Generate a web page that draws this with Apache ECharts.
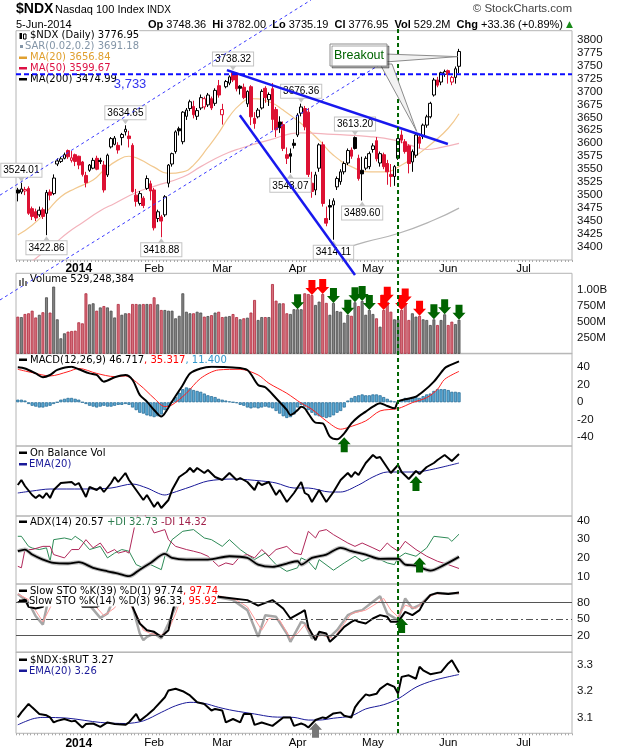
<!DOCTYPE html>
<html>
<head>
<meta charset="utf-8">
<title>$NDX Nasdaq 100 Index</title>
<script src="https://cdn.jsdelivr.net/npm/echarts@6.0.0/dist/echarts.min.js"></script>
<style>
html, body { margin: 0; padding: 0; background: #fff; }
#main_chart { width: 620px; height: 750px; }
</style>
</head>
<body>
<div id="main_chart"></div>
<script>
// trading days shown on the x axis (future days of Jun/Jul stay empty)
var decDays = [6,9,10,11,12,13,16,17,18,19,20,23,24,26,27,30,31];
var janDays = [2,3,6,7,8,9,10,13,14,15,16,17,21,22,23,24,27,28,29,30,31];
var febDays = [3,4,5,6,7,10,11,12,13,14,18,19,20,21,24,25,26,27,28];
var marDays = [3,4,5,6,7,10,11,12,13,14,17,18,19,20,21,24,25,26,27,28,31];
var aprDays = [1,2,3,4,7,8,9,10,11,14,15,16,17,21,22,23,24,25,28,29,30];
var mayDays = [1,2,5,6,7,8,9,12,13,14,15,16,19,20,21,22,23,27,28,29,30];
var junDays = [2,3,4,5,6,9,10,11,12,13,16,17,18,19,20,23,24,25,26,27,30];
var julDays = [1,2,3,7,8,9,10,11,14,15,16,17,18,21];
var monthNames = ['Jan','Feb','Mar','Apr','May','Jun','Jul','Aug','Sep','Oct','Nov','Dec'];

// $NDX daily candles, 6-Dec-2013 .. 5-Jun-2014
var opens = [3510,3506,3508,3513,3474,3468,3462,3472,3465,3506,
  3503,3560,3565,3571,3586,3567,3578,3575,3564,3538,
  3548,3552,3571,3567,3558,3539,3593,3598,3596,3611,
  3622,3614,3596,3500,3484,3494,3513,3522,3510,3455,
  3458,3462,3523,3560,3584,3628,3603,3652,3667,3671,
  3652,3668,3670,3674,3686,3677,3711,3655,3709,3716,
  3736,3735,3710,3708,3676,3709,3648,3651,3668,3706,
  3684,3705,3665,3641,3636,3578,3580,3600,3616,3658,
  3667,3660,3523,3510,3552,3597,3455,3480,3481,3516,
  3526,3545,3562,3587,3611,3571,3548,3552,3555,3588,
  3605,3562,3578,3561,3540,3536,3571,3616,3603,3595,
  3564,3577,3612,3613,3635,3651,3693,3722,3718,3733,
  3740,3718,3727,3748.36];
var closes = [3504,3512,3511,3465,3459,3456,3471,3459,3505,3500,
  3533,3566,3570,3578,3574,3572,3565,3558,3540,3524,
  3558,3567,3550,3565,3510,3577,3609,3610,3587,3617,
  3627,3609,3507,3488,3503,3480,3532,3508,3437,3468,
  3450,3497,3558,3580,3622,3624,3660,3664,3680,3655,
  3663,3688,3686,3693,3668,3702,3693,3665,3719,3728,
  3722,3705,3706,3688,3700,3651,3638,3664,3700,3688,
  3694,3646,3626,3630,3590,3571,3575,3596,3654,3670,
  3632,3540,3507,3539,3597,3484,3446,3477,3489,3532,
  3545,3561,3586,3575,3590,3532,3541,3571,3580,3595,
  3570,3580,3555,3545,3536,3555,3609,3606,3584,3561,
  3584,3616,3600,3635,3651,3677,3722,3712,3736,3738,
  3733,3727,3743.59,3776.95];
var highs = [3514,3524.01,3516,3517,3478,3474,3478,3476,3510,3511,
  3540,3571,3574,3582,3588,3585,3580,3576,3566,3545,
  3560,3572,3576,3572,3566,3580,3612,3614,3602,3620,
  3634.65,3624,3600,3512,3508,3498,3538,3528,3514,3472,
  3462,3500,3560,3582,3625,3632,3662,3668,3684,3682,
  3668,3694,3690,3697,3690,3706,3722,3676,3722,3731,
  3738.32,3737,3712,3715,3702,3712,3660,3668,3704,3710,
  3698,3716,3670,3652,3642,3592,3590,3608,3658,3676.36,
  3672,3668,3545,3545,3600,3603,3478,3492,3494,3536,
  3550,3565,3590,3592,3613.20,3578,3574,3575,3584,3600,
  3612,3584,3582,3568,3560,3558,3612,3625,3608,3598,
  3588,3620,3618,3638,3655,3680,3726,3728,3738,3742,
  3742,3730,3748,3782];
var lows = [3488,3502,3500,3462,3452,3450,3458,3454,3422.86,3490,
  3500,3556,3562,3569,3570,3563,3556,3550,3536,3515,
  3545,3550,3548,3560,3505,3535,3590,3596,3580,3596,
  3615,3592,3505,3478,3480,3475,3510,3490,3432,3448,
  3418.88,3458,3515,3555,3580,3615,3598,3645,3662,3648,
  3645,3664,3665,3670,3664,3672,3688,3636,3706,3712,
  3718,3700,3694,3685,3670,3635,3628,3648,3665,3678,
  3672,3625,3612,3620,3585,3560,3543.07,3590,3612,3652,
  3625,3535,3495,3500,3545,3478,3440,3452,3414.11,3510,
  3520,3540,3558,3570,3588,3528,3489.60,3548,3550,3582,
  3565,3555,3550,3520,3516,3518,3568,3600,3580,3542,
  3545,3572,3590,3608,3630,3648,3690,3708,3712,3728,
  3715,3712,3715,3735.19];
// volume in millions of shares
var volumes = [576,570,618,629,669,564,606,645,877,640,
  1043,535,240,318,344,354,359,489,473,939,
  768,784,669,720,741,720,669,564,773,606,
  629,629,773,773,768,773,773,773,877,768,
  680,680,669,669,551,590,939,653,629,629,
  653,640,577,586,600,640,653,570,577,586,
  617,570,536,551,561,640,836,525,570,570,
  570,1083,825,784,784,629,618,692,692,692,
  939,928,912,758,810,928,790,606,789,664,
  654,483,606,590,800,741,820,606,680,618,
  551,421,680,810,654,535,535,680,780,525,
  629,577,590,535,525,447,535,447,525,613,
  447,499,462,529.2];
var macdHist = [3,3,2,-2,-4,-5,-6,-6,-5,-4,
  -2,0,3,4,5,5,4,3,0,-2,
  -4,-5,-6,-5,-4,-5,-5,-4,-3,-3,
  -2,-3,-6,-9,-12,-13,-15,-16,-17,-16,
  -14,-9,-5,0,6,11,15,17,16,14,
  13,12,10,8,7,6,4,3,2,1,
  0,-1,-3,-4,-6,-7,-6,-7,-6,-5,
  -6,-7,-10,-13,-16,-18,-17,-14,-6,-3,
  -5,-9,-12,-15,-16,-17,-18,-17,-15,-12,
  -10,-6,2,5,7,8,9,8,8,9,
  9,8,6,4,2,1,1,3,5,4,
  5,6,5,7,9,10,13,15,15,15,
  14,12,12,11.4];

// overlay and indicator lines as [bar index, value]
var ma20Pts = [[0,3423],[4,3442],[8,3468],[12,3497],[16,3513],[21,3529],[24,3548],[28,3568],[31,3575],[34,3569],[38,3554],[42,3542],[46,3545],[49,3558],[53,3592],[56,3620],[59,3652],[62,3675],[65,3686],[70,3680],[74,3664],[79,3638],[84,3606],[88,3577],[93,3555],[98,3545],[102,3545],[107,3558],[112,3581],[116,3603],[120,3629],[123,3656.84]];
var ma50Pts = [[0,3350],[5,3378],[10,3405],[14,3428],[18,3447],[23,3470],[27,3484],[33,3505],[38,3517],[46,3535],[51,3555],[57,3577],[62,3590],[70,3606],[79,3620],[88,3617],[98,3613],[105,3606],[110,3595],[114,3588],[118,3592],[123,3599.67]];
var ma200Pts = [[86,3385],[91,3397],[97,3410],[106,3426],[116,3452],[123,3474.99]];
var macdPts = [[0,40],[2,38.7],[5,33],[7,28.6],[9,31.2],[11,37],[15,40.7],[17,37.7],[20,33],[22,31.2],[24,23.6],[27,28.6],[30,31.2],[32,25.5],[34,8.4],[36,0.8],[38,-8.8],[40,-16.4],[41,-12.6],[43,0.8],[46,19.8],[48,33],[51,38.7],[54,40.6],[60,39.8],[64,36.9],[67,19.8],[69,17.1],[72,4.6],[75,-8.8],[76,-14.5],[78,-9],[79,-5],[80,-7],[81,-13],[83,-23.3],[85,-24.1],[87,-39.3],[89,-42.3],[91,-35.5],[93,-24.1],[95,-16.4],[97,-10.7],[99,-5],[101,-1.1],[103,-4.2],[105,-6.9],[106,0.8],[108,3.4],[111,6.5],[113,12.2],[116,23.6],[119,38.9],[120,41.5],[123,46.717]];
var signalPts = [[0,37.7],[4,33.9],[9,30.1],[14,35],[17,38.7],[22,33],[27,29.3],[30,30.1],[34,19.8],[38,4.6],[41,-4.9],[43,-3],[47,10.3],[51,27.5],[56,37],[62,37.7],[67,31.2],[70,21.7],[75,10.3],[79,-1],[82,-8],[86,-21.3],[90,-30.8],[92,-28.9],[97,-21.3],[101,-9.9],[106,-7.2],[110,-0.4],[114,5.3],[117,14.8],[119,26.3],[123,35.317]];
// On Balance Volume, relative units (panel has no scale)
var obvPts = [[0,31],[1,36],[2,30],[4,21],[5,18],[6,21],[7,18],[8,23],[9,18],[10,26],[12,33],[15,34],[16,31],[17,33],[19,19],[20,29],[22,26],[23,29],[24,24],[26,33],[27,39],[28,34],[30,43],[31,36],[33,26],[35,16],[36,21],[38,9],[39,14],[40,8],[42,16],[43,26],[45,39],[47,44],[48,48],[49,44],[50,48],[52,43],[53,46],[55,39],[57,36],[59,43],[61,36],[62,38],[64,34],[66,26],[67,34],[68,31],[70,34],[72,21],[73,26],[75,14],[77,23],[79,34],[80,23],[81,21],[82,14],[84,26],[86,14],[88,24],[90,36],[92,43],[93,39],[94,44],[95,41],[97,53],[99,61],[100,58],[101,59],[104,43],[106,51],[107,44],[109,37],[111,45],[112,42],[114,49],[116,53],[117,56],[119,61],[121,55],[123,62]];
var obvEmaPts = [[0,23],[4,25],[9,27],[18,27],[26,28],[32,32],[36,28],[41,21],[43,23],[48,29],[53,35],[60,37],[68,35],[72,33],[77,28],[81,28],[87,24],[90,24],[95,31],[99,39],[103,44],[106,44],[111,44],[116,47],[123,53]];
var adxPts = [[0,23.6],[2,24.5],[4,21.8],[7,19.1],[10,17.3],[14,17],[17,17.7],[21,14.7],[25,12.8],[28,11.6],[31,10.2],[34,13.7],[37,17.3],[41,22.2],[43,20],[47,19.1],[53,19.1],[59,20.9],[64,20],[67,16.4],[71,15.2],[75,17],[78,18.2],[79,16.4],[82,20],[86,21.8],[90,25.4],[93,23.6],[97,21.8],[101,19.5],[106,19.6],[108,16.4],[111,15.9],[115,13.2],[119,16.4],[123,20.57]];
var plusDiPts = [[0,31.6],[1,31.6],[3,26.2],[4,25.3],[6,24.5],[8,25.4],[9,18.2],[10,29.8],[13,30.7],[15,29.8],[16,31.6],[18,28.9],[20,24.5],[23,26.2],[25,20],[27,22.6],[29,24.5],[31,23.6],[33,16.4],[35,14.7],[37,16.4],[40,13.7],[41,20.9],[43,29.8],[46,34.3],[49,35.2],[52,30.7],[54,29.8],[57,26.2],[59,29.8],[62,24.5],[66,19.1],[69,22.6],[72,16.4],[75,12.8],[78,14.7],[79,20],[81,18.2],[83,13.7],[84,19.1],[88,13.4],[91,17.3],[94,20.9],[96,18.2],[99,20.9],[103,17.3],[105,16.4],[106,20],[108,22.6],[111,20.9],[114,25.4],[116,31.6],[120,30.7],[121,28.9],[123,32.73]];
var minusDiPts = [[0,15.5],[1,14.7],[2,24.5],[4,24.5],[7,26.2],[9,26.2],[10,21.8],[13,20],[15,24.5],[17,24.5],[19,29.8],[21,25.4],[23,28],[25,22.6],[27,24.5],[28,22.6],[30,23.6],[31,22.6],[33,41],[34,45],[35,45],[36,41],[38,33.4],[41,35.2],[42,29.8],[44,26.2],[47,24.5],[49,23.6],[51,22.6],[53,20.9],[55,17.3],[56,15.5],[58,17.3],[60,16.4],[62,20.9],[64,21.8],[66,20],[68,24.5],[70,20.9],[72,24.5],[75,26.2],[77,22.6],[79,21.8],[80,28],[81,34.3],[83,30.7],[84,34.3],[86,35.2],[88,32.5],[92,28],[94,26.2],[96,28],[99,25.4],[101,23.6],[103,28],[104,26.2],[106,23.6],[108,28.9],[111,24.5],[114,20.9],[117,18.2],[120,16.4],[123,14.32]];
var stoK39Pts = [[0,80],[2,85],[3,72],[5,69],[7,72],[8,90],[10,100],[14,98],[17,95],[18,72],[22,72],[24,80],[26,95],[30,98],[32,72],[34,42],[36,30],[38,27],[40,18],[42,30],[43,60],[44,84],[46,95],[50,97],[55,95],[56,90],[60,87],[64,84],[67,74],[69,79],[71,84],[74,69],[76,51],[79,62],[80,66],[81,35],[83,12],[84,27],[86,24],[87,9],[89,21],[91,36],[93,45],[94,48],[95,45],[97,42],[99,51],[101,57],[103,54],[104,45],[106,45],[107,54],[108,63],[110,57],[112,66],[113,78],[115,93],[117,97],[120,95],[123,97.74]];
var stoK14Pts = [[0,95],[3,80],[5,55],[7,40],[8,70],[9,95],[12,100],[17,98],[20,75],[23,52],[25,60],[27,90],[30,100],[32,72],[34,24],[35,12],[36,18],[38,24],[40,15],[42,42],[44,72],[45,90],[47,100],[53,98],[55,90],[60,84],[64,66],[67,18],[69,57],[72,54],[75,24],[76,9],[79,45],[80,42],[82,15],[84,24],[87,18],[89,30],[92,57],[94,63],[96,66],[99,81],[101,91],[103,60],[106,48],[108,87],[110,69],[112,75],[115,93],[117,97],[120,96],[123,96.33]];
var stoD3Pts = [[0,95],[3,85],[5,65],[7,45],[9,70],[11,95],[14,100],[18,95],[21,78],[24,56],[27,70],[29,95],[33,60],[35,30],[37,24],[40,21],[42,30],[44,60],[45,78],[47,95],[52,99],[56,92],[61,84],[64,72],[68,30],[70,51],[73,48],[76,15],[78,24],[80,40],[81,30],[83,18],[85,21],[88,15],[91,42],[93,60],[97,66],[100,78],[102,87],[104,66],[106,54],[108,75],[111,69],[113,81],[116,95],[120,96],[123,95.92]];
var ratioPts = [[0,3.100],[1,3.119],[3,3.151],[4,3.138],[6,3.113],[8,3.108],[9,3.100],[10,3.081],[11,3.087],[13,3.094],[15,3.085],[16,3.087],[18,3.062],[19,3.075],[21,3.077],[23,3.064],[25,3.081],[27,3.075],[30,3.072],[31,3.081],[33,3.113],[34,3.087],[36,3.108],[38,3.132],[41,3.176],[42,3.202],[44,3.208],[46,3.199],[48,3.183],[50,3.157],[52,3.151],[54,3.126],[55,3.132],[57,3.126],[58,3.081],[60,3.094],[62,3.081],[63,3.113],[65,3.113],[66,3.072],[68,3.081],[71,3.068],[74,3.100],[76,3.100],[77,3.068],[79,3.077],[80,3.072],[81,3.062],[83,3.090],[85,3.100],[86,3.097],[88,3.115],[90,3.119],[91,3.106],[93,3.100],[94,3.138],[95,3.157],[97,3.187],[98,3.183],[100,3.189],[101,3.208],[103,3.227],[105,3.215],[106,3.190],[107,3.253],[109,3.259],[111,3.246],[112,3.291],[113,3.278],[115,3.263],[118,3.271],[120,3.304],[121,3.316],[123,3.270]];
var ratioEmaPts = [[0,3.072],[4,3.094],[7,3.100],[14,3.097],[23,3.081],[30,3.077],[35,3.087],[40,3.119],[44,3.144],[48,3.157],[52,3.153],[56,3.138],[60,3.126],[66,3.113],[71,3.102],[77,3.100],[81,3.090],[84,3.090],[88,3.097],[93,3.106],[97,3.132],[102,3.148],[106,3.170],[111,3.214],[116,3.240],[123,3.262]];

// annotations: [bar index, value]
var priceNotes = [[1,3524.01,1],[8,3422.86,-1],[30,3634.65,1],[40,3418.88,-1],[60,3738.32,1],[76,3543.07,-1],[79,3676.36,1],[88,3414.11,-1],[94,3613.20,1],[96,3489.60,-1]];
var volArrows = [[78,'g'],[82,'r'],[85,'r'],[88,'g'],[92,'g'],[94,'g'],[96,'g'],[98,'g'],[102,'r'],[103,'r'],[107,'r'],[108,'r'],[112,'r'],[116,'g'],[119,'g'],[123,'g']];
var resistLevel = 3733;
var channelUpper = [[-4.96,3500],[81.7,3876]];
var channelLower = [[-4.96,3298],[103.8,3764]];
var trendTop = [[58.3,3741],[119.9,3598.5]];
var trendLow = [[61.9,3654],[94,3346]];
var markDay = 106;

var RED = '#dd1133';
var GREEN = '#006400';
var ARROW_UP = 'path://M3,15L3,7L0,7L6.5,0L13,7L10,7L10,15Z';
var ARROW_DOWN = 'path://M3,0L10,0L10,8L13,8L6.5,15L0,8L3,8Z';

function monthDates(y, m, days) {
    return days.map(function (d) {
        return y + '-' + (m < 10 ? '0' : '') + m + '-' + (d < 10 ? '0' : '') + d;
    });
}
var dates = [].concat(monthDates(2013, 12, decDays), monthDates(2014, 1, janDays),
    monthDates(2014, 2, febDays), monthDates(2014, 3, marDays), monthDates(2014, 4, aprDays),
    monthDates(2014, 5, mayDays), monthDates(2014, 6, junDays), monthDates(2014, 7, julDays));

var monthStart = {};
dates.forEach(function (d, i) {
    if (i > 0 && d.slice(5, 7) !== dates[i - 1].slice(5, 7)) monthStart[i] = true;
});

// panels, top to bottom
var panels = [
    {top: 30.7, height: 229.3},
    {top: 273.3, height: 80.5},
    {top: 353.3, height: 92.7},
    {top: 446, height: 70},
    {top: 516, height: 68},
    {top: 584, height: 68.4},
    {top: 652, height: 81.3}
];

var candleItems = opens.map(function (o, i) {
    var c = closes[i];
    var down = i > 0 ? c < closes[i - 1] : false;
    var stroke = down ? RED : '#000';
    var fill = c >= o ? '#fff' : stroke;
    return {value: [o, c, lows[i], highs[i]],
        itemStyle: {color: fill, color0: fill, borderColor: stroke, borderColor0: stroke, borderWidth: 1}};
});

var volItems = volumes.map(function (v, i) {
    var down = i > 0 ? closes[i] < closes[i - 1] : closes[i] < opens[i];
    return {value: v, itemStyle: down ? {color: '#d6707c', borderColor: '#b0283c'} : {color: '#858585', borderColor: '#4a4a4a'}};
});

function pts(list) {
    return list.map(function (p) { return [dates[p[0]], p[1]]; });
}

function lineS(k, list, color, width, smooth, z) {
    return {type: 'line', xAxisIndex: k, yAxisIndex: k, data: pts(list), symbol: 'none',
        smooth: smooth || false, clip: true, silent: true, z: z || 2,
        lineStyle: {color: color, width: width}};
}

function yAx(k, min, max, interval, fmt) {
    return {type: 'value', gridIndex: k, position: 'right', min: min, max: max, interval: interval,
        axisLine: {show: false}, axisTick: {show: false}, splitLine: {show: false},
        axisLabel: {show: !!fmt, formatter: fmt, margin: 5, color: '#111',
            fontFamily: 'Liberation Sans', fontSize: 11.5}};
}

function inList(list) {
    return function (v) {
        for (var j = 0; j < list.length; j++) if (Math.abs(v - list[j]) < 1e-6) return String(list[j]);
        return '';
    };
}

var legendFont = 'DejaVu Sans';
function legend(text, left, top, color, rich) {
    return {text: text, left: left, top: top, padding: 0, backgroundColor: '#fff', z: 10,
        textStyle: {fontFamily: legendFont, fontSize: 10, fontWeight: 'normal', color: color || '#000',
            lineHeight: 11, rich: rich}};
}

var titles = [
    {text: '$NDX', left: 16, top: 2, padding: 0,
        textStyle: {fontFamily: 'Liberation Sans', fontSize: 14, fontWeight: 'bold', color: '#000'}},
    {text: 'Nasdaq 100 Index', left: 55, top: 4, padding: 0,
        textStyle: {fontFamily: 'Liberation Sans', fontSize: 11, fontWeight: 'normal', color: '#000'}},
    {text: 'INDX', left: 147, top: 5, padding: 0,
        textStyle: {fontFamily: 'Liberation Sans', fontSize: 10, fontWeight: 'normal', color: '#000'}},
    {text: '5-Jun-2014', left: 16, top: 19, padding: 0,
        textStyle: {fontFamily: 'Liberation Sans', fontSize: 11, fontWeight: 'normal', color: '#000'}},
    {text: '{b|Op} 3748.36  {b|Hi} 3782.00  {b|Lo} 3735.19  {b|Cl} 3776.95  {b|Vol} 529.2M  {b|Chg} +33.36 (+0.89%)',
        right: 57, top: 19, padding: 0,
        textStyle: {fontFamily: 'Liberation Sans', fontSize: 11, fontWeight: 'normal', color: '#000',
            rich: {b: {fontFamily: 'Liberation Sans', fontSize: 11, fontWeight: 'bold', color: '#000'}}}},
    {text: '\u25B2', right: 47, top: 20, padding: 0,
        textStyle: {fontFamily: 'DejaVu Sans', fontSize: 9, fontWeight: 'normal', color: '#1a8a1a'}},
    {text: '\u00A9 StockCharts.com', right: 48, top: 3, padding: 0,
        textStyle: {fontFamily: 'Liberation Sans', fontSize: 11.5, fontWeight: 'normal', color: '#444'}},
    legend('$NDX (Daily) 3776.95', 30, 29.5),
    legend('SAR(0.02,0.2) 3691.18', 25, 40.5, '#8395a7'),
    legend('MA(20) 3656.84', 30, 52, '#e0a030'),
    legend('MA(50) 3599.67', 30, 62.5, '#dd1144'),
    legend('MA(200) 3474.99', 30, 73.5),
    legend('Volume 529,248,384', 30, 274),
    legend('{k|MACD(12,26,9) 46.717}{r|, 35.317}{b|, 11.400}', 30, 354.5, '#000',
        {k: {color: '#000', fontFamily: legendFont, fontSize: 10}, r: {color: '#ff0000', fontFamily: legendFont, fontSize: 10},
         b: {color: '#3399cc', fontFamily: legendFont, fontSize: 10}}),
    legend('On Balance Vol', 30, 447.5),
    legend('EMA(20)', 29, 459, '#1a1a99'),
    legend('{k|ADX(14) 20.57 }{g|+DI 32.73 }{r|-DI 14.32}', 30, 516.5, '#000',
        {k: {color: '#000', fontFamily: legendFont, fontSize: 10}, g: {color: '#2e7d4f', fontFamily: legendFont, fontSize: 10},
         r: {color: '#a0204a', fontFamily: legendFont, fontSize: 10}}),
    legend('{k|Slow STO %K(39) %D(1) 97.74}{r|, 97.74}', 30, 585.5, '#000',
        {k: {color: '#000', fontFamily: legendFont, fontSize: 10}, r: {color: '#ff0000', fontFamily: legendFont, fontSize: 10}}),
    legend('{k|Slow STO %K(14) %D(3) 96.33}{r|, 95.92}', 29, 595.5, '#000',
        {k: {color: '#000', fontFamily: legendFont, fontSize: 10}, r: {color: '#ff0000', fontFamily: legendFont, fontSize: 10}}),
    legend('$NDX:$RUT 3.27', 30, 654.5),
    legend('EMA(20) 3.26', 29, 665.5, '#1a1a99')
];

var xAxes = panels.map(function (p, k) {
    var labelled = (k === 0 || k === 6);
    return {type: 'category', gridIndex: k, data: dates, boundaryGap: true,
        axisLine: {show: false},
        axisTick: {show: labelled, interval: 0, length: 2, lineStyle: {color: '#aaa'}},
        axisLabel: {show: labelled, margin: k === 0 ? 3 : 4,
            interval: function (i) { return !!monthStart[i]; },
            formatter: function (v) {
                var m = +v.slice(5, 7);
                return m === 1 ? '{y|' + v.slice(0, 4) + '}' : monthNames[m - 1];
            },
            color: '#000', fontFamily: 'Liberation Sans', fontSize: 11.5,
            rich: {y: {fontFamily: 'Liberation Sans', fontSize: 12, fontWeight: 'bold', color: '#000'}}},
        splitLine: {show: false}};
});

var yAxes = [
    yAx(0, 3375, 3817, 25, function (v) { return (v >= 3400 && v <= 3800) ? String(v) : ''; }),
    yAx(1, 0, 1250, 250, function (v) { return v === 1000 ? '1.00B' : (v > 0 && v < 1000 ? v + 'M' : ''); }),
    yAx(2, -50, 56, 10, inList([-40, -20, 0, 20, 40])),
    yAx(3, 0, 70, 10, null),
    yAx(4, 6, 42.5, 2, inList([10, 20, 30, 40])),
    yAx(5, -10, 113, 10, inList([20, 50, 80])),
    yAx(6, 3.04, 3.347, 0.01, function (v) {
        var r = Math.round(v * 10);
        return (Math.abs(v * 10 - r) < 1e-6 && r >= 31 && r <= 33) ? (r / 10).toFixed(1) : '';
    })
];

var series = [
    {type: 'candlestick', xAxisIndex: 0, yAxisIndex: 0, data: candleItems, barWidth: 3.2, z: 3, silent: true,
        markPoint: {silent: true, data: priceNotes.map(function (n) {
            var up = n[2] > 0;
            return {coord: [dates[n[0]], n[1]], name: n[1].toFixed(2), symbol: 'triangle', symbolSize: [7, 5],
                symbolRotate: up ? 180 : 0, symbolOffset: [0, up ? -3.5 : 3.5],
                itemStyle: {color: '#c4c4c4'},
                label: {show: true, position: up ? 'top' : 'bottom', distance: 0, formatter: '{b}',
                    color: '#000', fontFamily: 'Liberation Sans', fontSize: 10, backgroundColor: '#fff',
                    borderColor: '#c4c4c4', borderWidth: 1, padding: [2, 2, 1, 2]}};
        })}},
    lineS(0, ma20Pts, '#f2c88e', 1.2, true),
    lineS(0, ma50Pts, '#f3b3bc', 1.2, true),
    lineS(0, ma200Pts, '#b4b4b4', 1.2, true),
    {type: 'bar', xAxisIndex: 1, yAxisIndex: 1, data: volItems, barWidth: 2.9, silent: true,
        itemStyle: {borderWidth: 0.8},
        markPoint: {silent: true, data: volArrows.map(function (a) {
            return {coord: [dates[a[0]], volumes[a[0]]], symbol: ARROW_DOWN, symbolSize: [13, 15],
                symbolOffset: [0, '-50%'], itemStyle: {color: a[1] === 'g' ? GREEN : '#ff0000'}, label: {show: false}};
        })}},
    {type: 'bar', xAxisIndex: 2, yAxisIndex: 2, data: macdHist, barWidth: 3.2, silent: true,
        itemStyle: {color: '#5aaad6', borderColor: '#2b6e98', borderWidth: 0.8},
        markPoint: {silent: true, data: [{coord: [dates[91], -40], symbol: ARROW_UP, symbolSize: [13, 15],
            symbolOffset: [0, '50%'], itemStyle: {color: GREEN}, label: {show: false}}]}},
    lineS(2, signalPts, '#ff2020', 1, 0.3, 3),
    lineS(2, macdPts, '#000', 2, 0.3, 4),
    lineS(3, obvEmaPts, '#1a1a99', 1, 0.3, 2),
    (function () {
        var s = lineS(3, obvPts, '#000', 2, false, 3);
        s.markPoint = {silent: true, data: [{coord: [dates[111], 40], symbol: ARROW_UP, symbolSize: [13, 15],
            symbolOffset: [0, '50%'], itemStyle: {color: GREEN}, label: {show: false}}]};
        return s;
    })(),
    lineS(4, plusDiPts, '#2e8b57', 1, false, 2),
    lineS(4, minusDiPts, '#b0285a', 1, false, 2),
    lineS(4, adxPts, '#bdbdbd', 4, 0.3, 3),
    (function () {
        var s = lineS(4, adxPts, '#000', 1.8, 0.3, 4);
        s.markPoint = {silent: true, data: [{coord: [dates[112], 20.2], symbol: ARROW_UP, symbolSize: [13, 15],
            symbolOffset: [0, '50%'], itemStyle: {color: GREEN}, label: {show: false}}]};
        return s;
    })(),
    (function () {
        var s = lineS(5, stoK14Pts, '#a6a6a6', 2.5, false, 2);
        s.markLine = {silent: true, symbol: ['none', 'none'], label: {show: false},
            lineStyle: {color: '#555', width: 1, type: 'solid'},
            data: [{yAxis: 80}, {yAxis: 50, lineStyle: {type: [7, 3, 2, 3]}}, {yAxis: 20}]};
        return s;
    })(),
    lineS(5, stoD3Pts, '#ff9a9a', 1, false, 3),
    (function () {
        var s = lineS(5, stoK39Pts, '#000', 2, false, 4);
        s.markPoint = {silent: true, data: [{coord: [dates[107], 51.8], symbol: ARROW_UP, symbolSize: [13, 15],
            symbolOffset: [0, '50%'], itemStyle: {color: GREEN}, label: {show: false}}]};
        return s;
    })(),
    lineS(6, ratioEmaPts, '#1a1a99', 1, 0.3, 2),
    (function () {
        var s = lineS(6, ratioPts, '#000', 2, false, 3);
        s.markPoint = {silent: true, data: [{coord: [dates[83], 3.08], symbol: ARROW_UP, symbolSize: [13, 15],
            symbolOffset: [0, '50%'], itemStyle: {color: '#777'}, label: {show: false}}]};
        return s;
    })()
];

var option = {
    animation: false,
    backgroundColor: '#fff',
    title: titles,
    grid: panels.map(function (p) {
        return {left: 16, width: 556, top: p.top, height: p.height, show: true,
            borderColor: '#b4b4b4', borderWidth: 1, backgroundColor: 'transparent'};
    }),
    xAxis: xAxes,
    yAxis: yAxes,
    series: series
};

var myChart = echarts.init(document.getElementById('main_chart'));
myChart.setOption(option);

// drawn annotations, placed through the axes
var x0 = myChart.convertToPixel({xAxisIndex: 0}, dates[0]);
var x1 = myChart.convertToPixel({xAxisIndex: 0}, dates[1]);
function X(i) { return x0 + (x1 - x0) * i; }
function Y(k, v) { return myChart.convertToPixel({yAxisIndex: k}, v); }
function P(pt) { return [X(pt[0]), Y(0, pt[1])]; }

var gr = [];
function seg(a, b, color, w, dash, z) {
    gr.push({type: 'line', z: z || 50, silent: true, shape: {x1: a[0], y1: a[1], x2: b[0], y2: b[1]},
        style: {stroke: color, lineWidth: w, lineDash: dash || null}});
}
function box(x, y, w, h, fill, stroke) {
    gr.push({type: 'rect', z: 60, silent: true, shape: {x: x, y: y, width: w, height: h},
        style: {fill: fill, stroke: stroke || null, lineWidth: 1}});
}

seg(P(channelUpper[0]), P(channelUpper[1]), '#3a3aff', 1, [3, 3]);
seg(P(channelLower[0]), P(channelLower[1]), '#3a3aff', 1, [3, 3]);
seg(P(trendTop[0]), P(trendTop[1]), '#1818ee', 2.5);
seg(P(trendLow[0]), P(trendLow[1]), '#1818ee', 2.5);
var yr = Y(0, resistLevel);
seg([16, yr], [572, yr], '#0c0cff', 2, [5, 3]);
gr.push({type: 'text', z: 50, silent: true, x: X(31.3), y: yr + 10,
    style: {text: '3,733', fill: '#3333ee', font: '13px "Liberation Sans"', align: 'center', verticalAlign: 'middle'}});
var xm = X(markDay);
seg([xm, 29], [xm, 733], GREEN, 2, [4, 3]);

// Breakout callout
var tip1 = P([122.6, 3767]);
var tip2 = P([111.2, 3623]);
gr.push({type: 'polygon', z: 55, silent: true, shape: {points: [[385, 54], [385, 62], tip1]},
    style: {fill: '#f2f2f2', stroke: '#8c8c8c', lineWidth: 1}});
gr.push({type: 'polygon', z: 55, silent: true, shape: {points: [[380, 64], [392, 64], tip2]},
    style: {fill: '#f2f2f2', stroke: '#8c8c8c', lineWidth: 1}});
gr.push({type: 'rect', z: 56, silent: true, shape: {x: 330, y: 44, width: 57, height: 22},
    style: {fill: '#fff', stroke: '#8c8c8c', lineWidth: 1, shadowColor: 'rgba(0,0,0,0.35)',
        shadowOffsetX: 2, shadowOffsetY: 2, shadowBlur: 0}});
gr.push({type: 'text', z: 57, silent: true, x: 334, y: 55.5,
    style: {text: 'Breakout', fill: GREEN, font: '12.5px "Liberation Sans"', verticalAlign: 'middle'}});

// legend keys
box(19.5, 33, 2.5, 6, '#000');
box(23.5, 34, 2.5, 5, '#fff', '#000');
box(20, 45, 3, 3, '#8395a7');
box(19, 56.5, 8, 2.5, '#e0a030');
box(19, 67, 8, 2.5, '#dd1144');
box(19, 78, 8, 2.5, '#000');
box(19, 280, 2, 6, '#777');
box(22, 278, 2, 8, '#777');
box(25, 281, 2, 5, '#777');
box(19, 358.5, 8, 2.5, '#000');
box(19, 451.5, 8, 2.5, '#000');
box(19, 463, 8, 2.5, '#1a1a99');
box(19, 520.5, 8, 2.5, '#000');
box(19, 589.5, 8, 2.5, '#000');
box(19, 599.5, 8, 2.5, '#000');
box(19, 658.5, 8, 2.5, '#000');
box(19, 669.5, 8, 2.5, '#1a1a99');

myChart.setOption({graphic: gr});
window.onresize = function () { myChart.resize(); };
</script>
</body>
</html>
